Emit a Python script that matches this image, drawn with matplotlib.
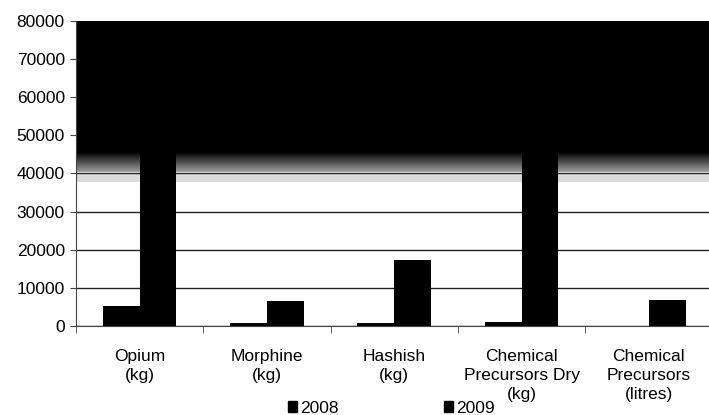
import numpy as np
import matplotlib.pyplot as plt
from matplotlib.patches import Patch

plt.rcParams["font.family"] = ["Liberation Sans", "DejaVu Sans"]

categories = ["Opium\n(kg)", "Morphine\n(kg)", "Hashish\n(kg)",
              "Chemical\nPrecursors Dry\n(kg)", "Chemical\nPrecursors\n(litres)"]
series_names = ["2008", "2009"]
values_2008 = [5300, 600, 800, 1100, 0]
values_2009 = [82000, 6600, 17200, 82000, 6700]
y_ticks = [0, 10000, 20000, 30000, 40000, 50000, 60000, 70000, 80000]

fig = plt.figure(figsize=(7.09, 4.15), dpi=100)
ax = fig.add_axes([0.107, 0.215, 0.898, 0.734])

x = np.arange(len(categories))
w = 0.29
ax.bar(x - w / 2, values_2008, w, color="black", zorder=3)
ax.bar(x + w / 2, values_2009, w, color="black", zorder=3)

# scan damage: black band over the top half, grey speckle near 40000
ax.axhspan(37800, 40000, color="#dadada", zorder=0.3, lw=0)
grad = np.linspace(0.62, 0.0, 50).reshape(-1, 1)
ax.imshow(grad, cmap="gray", vmin=0, vmax=1, aspect="auto", origin="lower",
          extent=(-0.5, len(categories) - 0.5, 40400, 45500), zorder=1)
ax.axhspan(45500, 80000, color="black", zorder=1, lw=0)

ax.set_xlim(-0.5, len(categories) - 0.5)
ax.set_ylim(0, 80000)
ax.set_yticks(y_ticks)
ax.set_yticklabels([str(v) for v in y_ticks], fontsize=12.5)
ax.set_axisbelow(True)
ax.yaxis.grid(True, color="#222222", lw=1.0)

ax.set_xticks(x)
ax.set_xticklabels(categories, fontsize=12.5, linespacing=1.3)
ax.tick_params(axis="x", length=0, pad=17)
ax.set_xticks(np.arange(len(categories) + 1) - 0.5, minor=True)
ax.tick_params(axis="x", which="minor", length=5, color="#444444")
ax.tick_params(axis="y", length=4, color="#444444", pad=4)

for s in ["top", "right"]:
    ax.spines[s].set_visible(False)
ax.spines["left"].set_color("#444444")
ax.spines["bottom"].set_color("#444444")

handles = [Patch(color="black", label=n) for n in series_names]
fig.legend(handles=handles, loc="lower left", bbox_to_anchor=(0.384, -0.04),
           ncol=2, frameon=False, fontsize=12.5, handlelength=0.55,
           handleheight=0.6, handletextpad=0.15, columnspacing=6.05)

fig.savefig("out.png", dpi=100)
